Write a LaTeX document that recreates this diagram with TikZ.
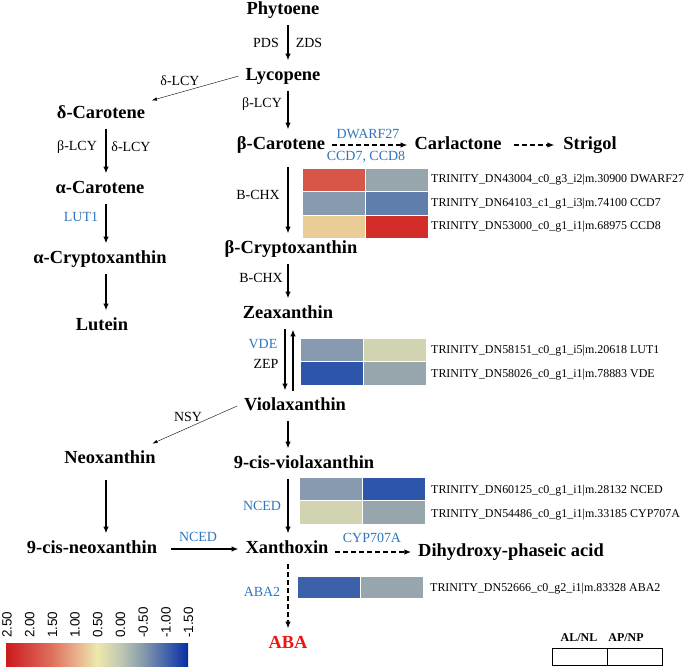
\documentclass[tikz,border=0pt]{standalone}
\usepackage{fontspec}
\setmainfont{Liberation Serif}
\newfontfamily\arialfont{Liberation Sans}
\usetikzlibrary{calc,arrows.meta}

\definecolor{enzblue}{RGB}{46,117,190}
\definecolor{abared}{RGB}{240,20,20}
\definecolor{hRed}{RGB}{216,86,72}
\definecolor{hGray}{RGB}{150,166,172}
\definecolor{hSlate}{RGB}{135,154,175}
\definecolor{hSteel}{RGB}{96,126,172}
\definecolor{hSand}{RGB}{234,204,150}
\definecolor{hCrim}{RGB}{210,45,40}
\definecolor{hKhaki}{RGB}{210,211,176}
\definecolor{hBlue}{RGB}{45,86,170}
\definecolor{hBlueB}{RGB}{60,96,170}

\pgfdeclarehorizontalshading{heatbar}{100bp}{rgb(0bp)=(0.80,0.10,0.12); rgb(25bp)=(0.80,0.10,0.12); rgb(37.5bp)=(0.87,0.44,0.36); rgb(43.75bp)=(0.91,0.67,0.53); rgb(50bp)=(0.93,0.91,0.67); rgb(56.25bp)=(0.76,0.79,0.70); rgb(62.5bp)=(0.53,0.61,0.67); rgb(68.75bp)=(0.28,0.40,0.67); rgb(75bp)=(0.02,0.18,0.65); rgb(100bp)=(0.02,0.18,0.65)}

\tikzset{
	metab/.style={font=\fontsize{18.5}{20}\selectfont\bfseries, inner sep=0pt, outer sep=7pt, text height=13pt, text depth=4pt},
	enz/.style={font=\fontsize{14}{16}\selectfont, inner sep=0pt},
	enzb/.style={enz, text=enzblue},
	gene/.style={font=\fontsize{12}{14}\selectfont, anchor=west, inner sep=0pt},
	arr/.style={-{Latex[length=7pt,width=5.5pt]}, line width=1.5pt},
	thinarr/.style={-{Latex[length=5pt,width=3.5pt]}, line width=0.4pt},
	darr/.style={-{Latex[length=7pt,width=5.5pt]}, line width=1.5pt, dash pattern=on 5pt off 3pt},
	cell/.style={draw=white, line width=0.8pt},
}

\begin{document}
\begin{tikzpicture}[x=1bp, y={(0bp,-1bp)}]
	\useasboundingbox (0,0) rectangle (685,669);

	\pgfmathsetmacro{\cellw}{63}
	\pgfmathsetmacro{\cellh}{23.5}

	% arrow columns
	\coordinate (colM) at (288,0);
	\coordinate (colMa) at (285,0);
	\coordinate (colMb) at (293,0);
	\coordinate (colL) at (106,0);

	% metabolites
	\node[metab] (phy) at (283,10) {Phytoene};
	\node[metab] (lyc) at (283,76) {Lycopene};
	\node[metab] (bcar) at (281,145) {β-Carotene};
	\node[metab] (carl) at (458,145) {Carlactone};
	\node[metab] (strig) at (590,145) {Strigol};
	\node[metab] (bcry) at (291,249) {β-Cryptoxanthin};
	\node[metab] (zea) at (288,314) {Zeaxanthin};
	\node[metab] (viola) at (295,406) {Violaxanthin};
	\node[metab] (cviola) at (304,464) {9-cis-violaxanthin};
	\node[metab] (xan) at (287,549) {Xanthoxin};
	\node[metab] (dpa) at (511,552) {Dihydroxy-phaseic acid};
	\node[metab, text=abared] (aba) at (288,644) {ABA};
	\node[metab] (dcar) at (101,114) {δ-Carotene};
	\node[metab] (acar) at (100,189) {α-Carotene};
	\node[metab] (acry) at (100,259) {α-Cryptoxanthin};
	\node[metab] (lut) at (102,326) {Lutein};
	\node[metab] (neo) at (110,459) {Neoxanthin};
	\node[metab] (cneo) at (92,549) {9-cis-neoxanthin};

	% enzymes
	\node[enz] (pds) at (266,43) {PDS};
	\node[enz] (zds) at (309,43) {ZDS};
	\node[enz] (dlcyA) at (180,81) {δ-LCY};
	\node[enz] (blcyA) at (262,104) {β-LCY};
	\node[enz] (blcyB) at (77,147) {β-LCY};
	\node[enz] (dlcyB) at (131,147) {δ-LCY};
	\node[enzb] (lut1) at (81,217) {LUT1};
	\node[enzb] (dw27) at (368,134) {DWARF27};
	\node[enzb] (ccd) at (366,157) {CCD7, CCD8};
	\node[enz] (bchxA) at (258,195) {B-CHX};
	\node[enz] (bchxB) at (261,278) {B-CHX};
	\node[enzb] (vde) at (263,344) {VDE};
	\node[enz] (zep) at (266,364) {ZEP};
	\node[enz] (nsy) at (188,417) {NSY};
	\node[enzb] (ncedA) at (262,506) {NCED};
	\node[enzb] (ncedB) at (198,537) {NCED};
	\node[enzb] (cyp) at (372,538) {CYP707A};
	\node[enzb] (aba2) at (262,592) {ABA2};

	% main column
	\draw[arr] (phy.south -| colM) -- (lyc.north -| colM);
	\draw[arr] (lyc.south -| colM) -- (bcar.north -| colM);
	\draw[arr] ([yshift=-7pt]bcar.south -| colM) -- (bcry.north -| colM);
	\draw[arr] (bcry.south -| colM) -- (zea.north -| colM);
	\draw[arr] (zea.south -| colMa) -- (viola.north -| colMa);
	\draw[arr] (viola.north -| colMb) -- (zea.south -| colMb);
	\draw[arr] (viola.south -| colM) -- (cviola.north -| colM);
	\draw[arr] (cviola.south -| colM) -- (xan.north -| colM);
	\draw[darr] (xan.south -| colM) -- (aba.north -| colM);

	% side branches
	\draw[darr] (bcar.east) -- (carl.west);
	\draw[darr] ([xshift=6pt]carl.east) -- ([xshift=-2pt]strig.west);
	\draw[darr] (dpa.west -| xan.east) -- (dpa.west);
	\draw[arr] ([xshift=7pt]cneo.east) -- (xan.west);
	\draw[thinarr] (lyc.west) -- (dcar.15);
	\draw[thinarr] (viola.west) -- (neo.20);

	% left column
	\draw[arr] (dcar.south -| colL) -- (acar.north -| colL);
	\draw[arr] (acar.south -| colL) -- (acry.north -| colL);
	\draw[arr] (acry.south -| colL) -- (lut.north -| colL);
	\draw[arr] ([yshift=-6pt]neo.south -| colL) -- (cneo.north -| colL);

	% heatmaps
	\begin{scope}[shift={(302,168)}]
		\foreach \r/\ca/\cb/\nm/\gene in {0/hRed/hGray/gdw/{TRINITY\_DN43004\_c0\_g3\_i2|m.30900 DWARF27}, 1/hSlate/hSteel/gcca/{TRINITY\_DN64103\_c1\_g1\_i3|m.74100 CCD7}, 2/hSand/hCrim/gccb/{TRINITY\_DN53000\_c0\_g1\_i1|m.68975 CCD8}}
		{
			\fill[\ca, cell] (0,\r*\cellh) rectangle +(\cellw,\cellh);
			\fill[\cb, cell] (\cellw,\r*\cellh) rectangle +(\cellw,\cellh);
			\node[gene] (\nm) at (2*\cellw+3,\r*\cellh+0.5*\cellh) {\gene};
		}
	\end{scope}
	\begin{scope}[shift={(300,338)}]
		\foreach \r/\ca/\cb/\nm/\gene in {0/hSlate/hKhaki/glut/{TRINITY\_DN58151\_c0\_g1\_i5|m.20618 LUT1}, 1/hBlue/hGray/gvde/{TRINITY\_DN58026\_c0\_g1\_i1|m.78883 VDE}}
		{
			\fill[\ca, cell] (0,\r*\cellh) rectangle +(\cellw,\cellh);
			\fill[\cb, cell] (\cellw,\r*\cellh) rectangle +(\cellw,\cellh);
			\node[gene] (\nm) at (2*\cellw+5,\r*\cellh+0.5*\cellh+1) {\gene};
		}
	\end{scope}
	\begin{scope}[shift={(299,477)}]
		\foreach \r/\ca/\cb/\nm/\gene in {0/hSlate/hBlue/gnced/{TRINITY\_DN60125\_c0\_g1\_i1|m.28132 NCED}, 1/hKhaki/hGray/gcyp/{TRINITY\_DN54486\_c0\_g1\_i1|m.33185 CYP707A}}
		{
			\fill[\ca, cell] (0,\r*\cellh) rectangle +(\cellw,\cellh);
			\fill[\cb, cell] (\cellw,\r*\cellh) rectangle +(\cellw,\cellh);
			\node[gene] (\nm) at (2*\cellw+6,\r*\cellh+0.5*\cellh+2) {\gene};
		}
	\end{scope}
	\begin{scope}[shift={(297,576)}]
		\fill[hBlueB, cell] (0,0) rectangle +(\cellw,22);
		\fill[hGray, cell] (\cellw,0) rectangle +(\cellw,22);
		\node[gene] (gaba) at (2*\cellw+7,13) {TRINITY\_DN52666\_c0\_g2\_i1|m.83328 ABA2};
	\end{scope}

	% colour bar
	\shade[shading=heatbar] (6,643) rectangle (188,666);
	\foreach \v [count=\k from 0] in {2.50,2.00,1.50,1.00,0.50,0.00,-0.50,-1.00,-1.50}
		\node[font=\arialfont\fontsize{13.5}{15}\selectfont, rotate=90, anchor=west, inner sep=0pt] (tick\k) at (7+\k*22.7,638) {\v};

	% sample legend
	\node[font=\fontsize{12}{14}\selectfont\bfseries, inner sep=0pt] (alnl) at (579,638) {AL/NL};
	\node[font=\fontsize{12}{14}\selectfont\bfseries, inner sep=0pt] (apnp) at (626,638) {AP/NP};
	\draw[line width=0.8pt] (552,648) rectangle (662,665);
	\draw[line width=0.8pt] (607,648) -- (607,665);
\end{tikzpicture}
\end{document}
